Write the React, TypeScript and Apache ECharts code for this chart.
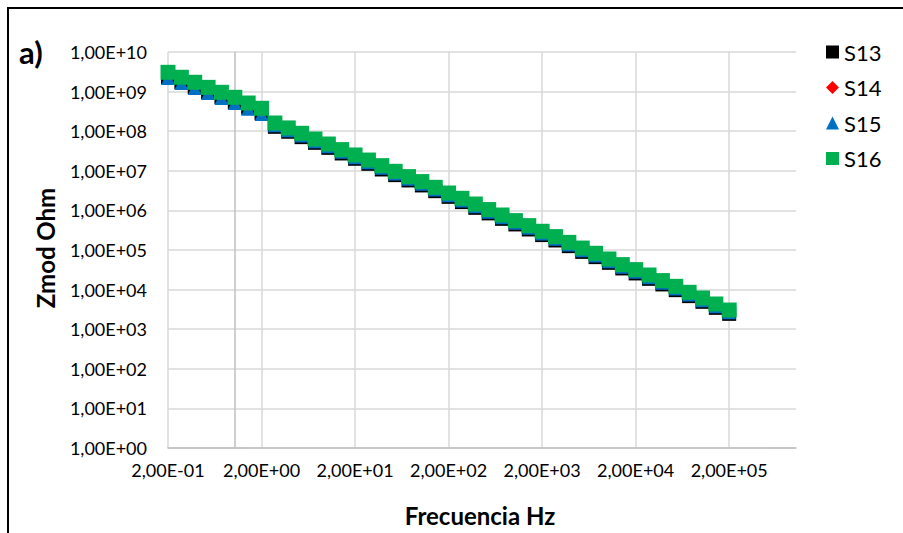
import React, { useEffect, useRef } from "react";
import * as echarts from "echarts";

const frequencies = [
  "2,00E-01", "2,78E-01", "3,86E-01", "5,37E-01", "7,46E-01", "1,04E+00", "1,44E+00",
  "2,00E+00", "2,78E+00", "3,86E+00", "5,37E+00", "7,46E+00", "1,04E+01", "1,44E+01",
  "2,00E+01", "2,78E+01", "3,86E+01", "5,37E+01", "7,46E+01", "1,04E+02", "1,44E+02",
  "2,00E+02", "2,78E+02", "3,86E+02", "5,37E+02", "7,46E+02", "1,04E+03", "1,44E+03",
  "2,00E+03", "2,78E+03", "3,86E+03", "5,37E+03", "7,46E+03", "1,04E+04", "1,44E+04",
  "2,00E+04", "2,78E+04", "3,86E+04", "5,37E+04", "7,46E+04", "1,04E+05", "1,44E+05",
  "2,00E+05", "", "", "", "", "",
];

const s13 = [
  2.33e9, 1.75e9, 1.31e9, 9.7e8, 7.3e8, 5.46e8, 3.91e8, 2.88e8,
  1.29e8, 9.68e7, 7.08e7, 5.09e7, 3.8e7, 2.74e7, 2.01e7, 1.5e7, 1.08e7, 7.77e6,
  5.71e6, 4.27e6, 3.06e6, 2.2e6, 1.62e6, 1.16e6, 8.4e5, 6.12e5, 4.42e5, 3.3e5,
  2.38e5, 1.74e5, 1.25e5, 8.96e4, 6.61e4, 4.74e4, 3.42e4, 2.56e4, 1.87e4, 1.35e4,
  9.68e3, 6.84e3, 4.91e3, 3.46e3, 2.44e3,
];
const s14 = [
  2.39e9, 1.79e9, 1.34e9, 1.0e9, 7.5e8, 5.6e8, 4.02e8, 2.96e8,
  1.34e8, 1.0e8, 7.35e7, 5.28e7, 3.94e7, 2.85e7, 2.08e7, 1.55e7, 1.12e7, 8.06e6,
  5.93e6, 4.43e6, 3.18e6, 2.28e6, 1.68e6, 1.2e6, 8.72e5, 6.35e5, 4.58e5, 3.43e5,
  2.47e5, 1.81e5, 1.29e5, 9.3e4, 6.86e4, 4.92e4, 3.55e4, 2.66e4, 1.94e4, 1.4e4,
  1.0e4, 7.1e3, 5.1e3, 3.59e3, 2.53e3,
];
const s15 = [
  2.21e9, 1.66e9, 1.24e9, 9.2e8, 6.9e8, 5.17e8, 3.71e8, 2.73e8,
  1.42e8, 1.06e8, 7.79e7, 5.6e7, 4.18e7, 3.02e7, 2.21e7, 1.65e7, 1.19e7, 8.54e6,
  6.28e6, 4.7e6, 3.37e6, 2.42e6, 1.78e6, 1.28e6, 9.24e5, 6.73e5, 4.86e5, 3.63e5,
  2.61e5, 1.92e5, 1.37e5, 9.86e4, 7.27e4, 5.22e4, 3.77e4, 2.82e4, 2.06e4, 1.49e4,
  1.06e4, 7.52e3, 5.4e3, 3.81e3, 2.68e3,
];
const s16 = [
  3.07e9, 2.3e9, 1.72e9, 1.28e9, 9.6e8, 7.18e8, 5.15e8, 3.79e8,
  1.61e8, 1.21e8, 8.85e7, 6.36e7, 4.75e7, 3.43e7, 2.51e7, 1.87e7, 1.35e7, 9.71e6,
  7.14e6, 5.34e6, 3.83e6, 2.75e6, 2.02e6, 1.45e6, 1.05e6, 7.65e5, 5.52e5, 4.13e5,
  2.97e5, 2.18e5, 1.56e5, 1.12e5, 8.26e4, 5.93e4, 4.28e4, 3.2e4, 2.34e4, 1.69e4,
  1.21e4, 8.55e3, 6.14e3, 4.33e3, 3.05e3,
];

const seriesNames = ["S13", "S14", "S15", "S16"];
const seriesColors = ["#000000", "#ff0000", "#0070c0", "#00b050"];
const seriesSymbols = ["rect", "diamond", "triangle", "rect"];
const seriesSizes = [14, 11, 14, 15];
const seriesData = [s13, s14, s15, s16];
const valueAxisCrossIndex = 5;

const FONT = "Lato, 'Open Sans', sans-serif";

function fmtY(v: number): string {
  const e = Math.round(Math.log10(v));
  const sign = e < 0 ? "-" : "+";
  return "1,00E" + sign + String(Math.abs(e)).padStart(2, "0");
}

export default function App() {
  const ref = useRef<HTMLDivElement>(null);
  useEffect(() => {
    if (!ref.current) return;
    const chart = echarts.init(ref.current, undefined, { renderer: "svg" });
    const series: any[] = seriesNames.map((name, i) => ({
      name,
      type: "scatter",
      data: seriesData[i],
      symbol: seriesSymbols[i],
      symbolSize: seriesSizes[i],
      itemStyle: { color: seriesColors[i], opacity: 1 },
      z: 3 + i,
    }));
    series[0].markLine = {
      silent: true,
      symbol: "none",
      label: { show: false },
      lineStyle: { color: "#bfbfbf", width: 1.5, type: "solid" },
      data: [{ xAxis: valueAxisCrossIndex }],
      z: 1,
    };
    chart.setOption({
      animation: false,
      backgroundColor: "#ffffff",
      grid: { left: 168, right: 107, top: 52, bottom: 85, containLabel: false },
      legend: {
        orient: "vertical",
        left: 826,
        top: 41,
        padding: 0,
        itemWidth: 13,
        itemHeight: 13,
        itemGap: 13.5,
        itemTextGap: 6,
        data: seriesNames,
        textStyle: { fontFamily: FONT, fontSize: 22, color: "#000", lineHeight: 22 },
      },
      xAxis: {
        type: "category",
        data: frequencies,
        boundaryGap: false,
        axisLine: { show: true, lineStyle: { color: "#bfbfbf", width: 1.5 } },
        axisTick: { show: false },
        axisLabel: {
          interval: 6,
          margin: 13,
          fontFamily: FONT,
          fontSize: 18,
          color: "#000",
        },
        splitLine: {
          show: true,
          interval: 6,
          lineStyle: { color: "#d9d9d9", width: 1.5 },
        },
      },
      yAxis: {
        type: "log",
        logBase: 10,
        min: 1,
        max: 1e10,
        interval: 1,
        axisLine: { show: false },
        axisTick: { show: false },
        axisLabel: {
          margin: 21,
          fontFamily: FONT,
          fontSize: 18,
          color: "#000",
          formatter: (v: number) => fmtY(v),
        },
        splitLine: { show: true, lineStyle: { color: "#d9d9d9", width: 1.5 } },
      },
      graphic: [
        {
          type: "text",
          left: 19,
          top: 36,
          style: { text: "a)", fontFamily: FONT, fontSize: 31, fontWeight: "bold", fill: "#000" },
        },
        {
          type: "text",
          x: 45,
          y: 248,
          rotation: Math.PI / 2,
          style: {
            text: "Zmod Ohm",
            fontFamily: FONT,
            fontSize: 24,
            fontWeight: "bold",
            fill: "#000",
            align: "center",
            verticalAlign: "middle",
          },
        },
        {
          type: "text",
          x: 480,
          y: 515,
          style: {
            text: "Frecuencia Hz",
            fontFamily: FONT,
            fontSize: 24,
            fontWeight: "bold",
            fill: "#000",
            align: "center",
            verticalAlign: "middle",
          },
        },
      ],
      series,
    });
    return () => chart.dispose();
  }, []);
  return (
    <>
      <div
        ref={ref}
        style={{ position: "fixed", left: 0, top: 0, width: 903, height: 533 }}
      />
      <div
        style={{
          position: "fixed",
          left: 7,
          top: 7,
          width: 1000,
          height: 1000,
          borderTop: "2px solid #000",
          borderLeft: "2px solid #000",
          pointerEvents: "none",
        }}
      />
    </>
  );
}
